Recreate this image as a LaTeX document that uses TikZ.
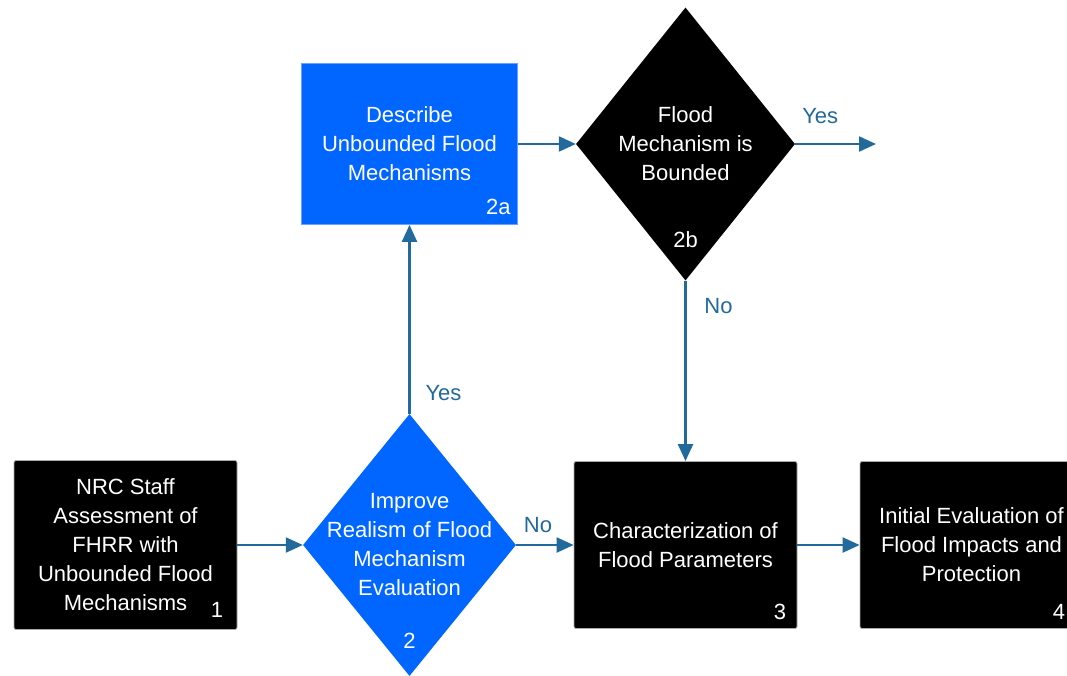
\documentclass[tikz,border=0pt]{standalone}
\usepackage{fontspec}
\setmainfont{Liberation Sans}
\usetikzlibrary{shapes.geometric,arrows.meta}
\definecolor{flowblue}{RGB}{0,102,255}
\definecolor{linkblue}{RGB}{33,106,155}
\definecolor{edgegray}{RGB}{170,170,170}
\tikzset{
  txt/.style={font=\fontsize{22}{29}\selectfont, text=white, align=center},
  blackbox/.style={rectangle, rounded corners=2pt, fill=black, draw=edgegray, line width=0.8pt, inner sep=0pt},
  bluebox/.style={rectangle, fill=flowblue, draw=flowblue!60!white, line width=0.8pt, inner sep=0pt},
  decision/.style={diamond, inner sep=0pt, draw=none},
  num/.style={font=\fontsize{22}{29}\selectfont, text=white, inner sep=0pt},
  lbl/.style={font=\fontsize{22}{29}\selectfont, text=linkblue, inner sep=0pt},
  flow/.style={draw=linkblue, line width=2.2pt, -{Triangle[length=17pt,width=15pt]}}
}
\begin{document}
\begin{tikzpicture}[x=1pt,y=-1pt]
  \clip (0,0) rectangle (1067,675);
  \fill[white] (0,0) rectangle (1067,675);

  % process boxes
  \node[blackbox, txt, minimum width=223pt, minimum height=169pt] (b1) at (125.5,545)
    {NRC Staff\\Assessment of\\FHRR with\\Unbounded Flood\\Mechanisms};
  \node[bluebox, txt, minimum width=216pt, minimum height=161pt] (b2a) at (409.5,144)
    {Describe\\Unbounded Flood\\Mechanisms};
  \node[blackbox, txt, minimum width=223pt, minimum height=167pt] (b3) at (685.5,545)
    {Characterization of\\Flood Parameters};
  \node[blackbox, txt, minimum width=223pt, minimum height=167pt] (b4) at (971.5,545)
    {Initial Evaluation of\\Flood Impacts and\\Protection};

  % decisions
  \node[decision, fill=flowblue, minimum width=213pt, minimum height=262pt] (d2) at (409.5,545) {};
  \node[txt] (d2t) at (d2.center) {Improve\\Realism of Flood\\Mechanism\\Evaluation};
  \node[decision, fill=black, minimum width=219pt, minimum height=273pt] (d2b) at (685.5,144) {};
  \node[txt] (d2bt) at (d2b.center) {Flood\\Mechanism is\\Bounded};

  % step numbers
  \node[num, anchor=base east] (n1) at ([shift={(-14,-12)}]b1.south east) {1};
  \node[num, anchor=base east] (n2a) at ([shift={(-7,-10)}]b2a.south east) {2a};
  \node[num, anchor=base east] (n3) at ([shift={(-11,-9)}]b3.south east) {3};
  \node[num, anchor=base east] (n4) at ([shift={(-18,-9)}]b4.south east) {4};
  \node[num, anchor=base] (n2) at (409.5,648) {2};
  \node[num, anchor=base] (n2b) at (685.5,247) {2b};

  % connectors
  \coordinate (yesend) at (876,144);
  \draw[flow] (b1.east) -- (d2.west);
  \draw[flow] (d2.north) -- node[lbl, pos=0.11, xshift=34pt] (lyes1) {Yes} (b2a.south);
  \draw[flow] (d2.east) -- node[lbl, pos=0.38, yshift=20pt] (lno1) {No} (b3.west);
  \draw[flow] (b2a.east) -- (d2b.west);
  \draw[flow] (d2b.east) -- node[lbl, pos=0.31, yshift=28pt] (lyes2) {Yes} (yesend);
  \draw[flow] (d2b.south) -- node[lbl, pos=0.14, xshift=33pt] (lno2) {No} (b3.north);
  \draw[flow] (b3.east) -- (b4.west);
\end{tikzpicture}
\end{document}
